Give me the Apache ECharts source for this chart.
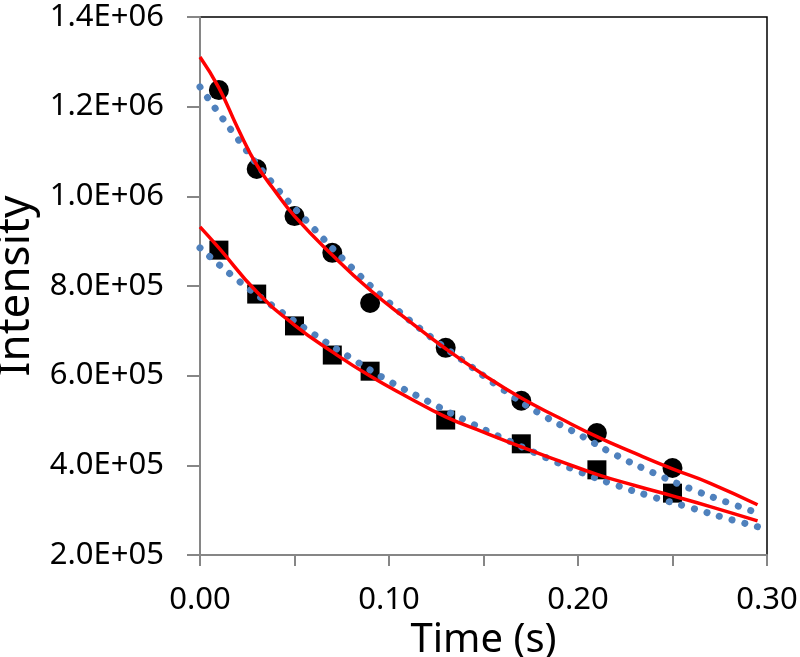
<!DOCTYPE html>
<html>
<head>
<meta charset="utf-8">
<script src="https://cdn.jsdelivr.net/npm/echarts@6/dist/echarts.min.js"></script>
<style>
  html, body { margin: 0; padding: 0; background: #fff; }
  #chart { width: 800px; height: 657px; }
</style>
</head>
<body>
<div id="chart"></div>
<script>
// measured points (time in s)
const circleTime = [0.01, 0.03, 0.05, 0.07, 0.09, 0.13, 0.17, 0.21, 0.25];
const circleIntensity = [1237000, 1061000, 956000, 874000, 762000, 662000, 544000, 472000, 394000];
const squareTime = [0.01, 0.03, 0.05, 0.07, 0.09, 0.13, 0.17, 0.21, 0.25];
const squareIntensity = [880000, 782000, 711000, 646000, 610000, 501000, 448000, 390000, 338000];

// red fit curves
const redTopTime = [0, 0.01, 0.02, 0.03, 0.04, 0.05, 0.07, 0.09, 0.11, 0.13, 0.15, 0.17, 0.19, 0.21, 0.23, 0.25, 0.27, 0.295];
const redTopValue = [1311000, 1242000, 1152000, 1070000, 1010000, 956000, 869000, 791000, 724000, 660000, 602000, 550000, 506000, 464000, 427000, 392000, 360000, 312000];
const redBottomTime = [0, 0.01, 0.03, 0.05, 0.07, 0.09, 0.11, 0.13, 0.15, 0.17, 0.19, 0.21, 0.23, 0.25, 0.27, 0.295];
const redBottomValue = [932000, 885000, 787000, 713000, 653000, 599000, 552000, 508000, 474000, 441000, 410000, 380000, 355000, 332000, 308000, 276000];

// blue dotted fit curves
const blueTime = [0, 0.02, 0.04, 0.06, 0.08, 0.10, 0.12, 0.14, 0.16, 0.18, 0.20, 0.22, 0.24, 0.26, 0.28, 0.295];
const blueTopValue = [1244000, 1128000, 1021000, 929000, 842000, 763000, 693000, 631000, 570000, 515000, 470000, 423000, 383000, 347000, 316000, 294000];
const blueBottomValue = [885000, 813000, 751000, 693000, 639000, 588000, 544000, 501000, 461000, 423000, 387000, 356000, 329000, 305000, 280000, 263000];

const pairs = (xs, ys) => xs.map((x, i) => [x, ys[i]]);

const axisGray = '#868686';
const font = 'Noto Sans';

const chart = echarts.init(document.getElementById('chart'));

const blueLine = (name, values) => ({
  name: name,
  type: 'line',
  data: pairs(blueTime, values),
  smooth: true,
  showSymbol: false,
  z: 3,
  lineStyle: {
    color: '#4f81bd',
    width: 7,
    type: [0.1, 13],
    cap: 'round'
  }
});

const redLine = (name, xs, values) => ({
  name: name,
  type: 'line',
  data: pairs(xs, values),
  smooth: true,
  showSymbol: false,
  z: 4,
  lineStyle: { color: '#ff0000', width: 3.5 }
});

chart.setOption({
  animation: false,
  grid: {
    left: 200,
    right: 33,
    top: 17,
    bottom: 102,
    outerBoundsMode: 'none',
    containLabel: false,
    show: true,
    borderColor: '#000',
    borderWidth: 1.5
  },
  xAxis: {
    type: 'value',
    min: 0,
    max: 0.3,
    interval: 0.05,
    name: 'Time (s)',
    nameLocation: 'middle',
    nameGap: 56,
    nameTextStyle: { fontFamily: font, fontSize: 40, color: '#000' },
    axisLine: { show: true, lineStyle: { color: axisGray, width: 2 } },
    axisTick: { show: true, inside: false, length: 11, lineStyle: { color: axisGray, width: 2 } },
    splitLine: { show: false },
    axisLabel: {
      margin: 30,
      fontFamily: font,
      fontSize: 31,
      color: '#000',
      showMaxLabel: true,
      formatter: v => (Math.round(v * 100) % 10 === 0 ? v.toFixed(2) : '')
    }
  },
  yAxis: {
    type: 'value',
    min: 200000,
    max: 1400000,
    interval: 200000,
    name: 'Intensity',
    nameLocation: 'middle',
    nameGap: 150,
    nameTextStyle: { fontFamily: font, fontSize: 44, color: '#000' },
    axisLine: { show: true, lineStyle: { color: axisGray, width: 2 } },
    axisTick: { show: true, inside: false, length: 13, lineStyle: { color: axisGray, width: 2 } },
    splitLine: { show: false },
    axisLabel: {
      margin: 36,
      fontFamily: font,
      fontSize: 31,
      color: '#000',
      formatter: v => v.toExponential(1).toUpperCase().replace(/E\+(\d)$/, 'E+0$1')
    }
  },
  series: [
    {
      name: 'circles',
      type: 'scatter',
      data: pairs(circleTime, circleIntensity),
      symbol: 'circle',
      symbolSize: 20,
      z: 2,
      itemStyle: { color: '#000', opacity: 1 }
    },
    {
      name: 'squares',
      type: 'scatter',
      data: pairs(squareTime, squareIntensity),
      symbol: 'rect',
      symbolSize: 19,
      z: 2,
      itemStyle: { color: '#000', opacity: 1 }
    },
    blueLine('blue top', blueTopValue),
    blueLine('blue bottom', blueBottomValue),
    redLine('red top', redTopTime, redTopValue),
    redLine('red bottom', redBottomTime, redBottomValue)
  ]
});
</script>
</body>
</html>
